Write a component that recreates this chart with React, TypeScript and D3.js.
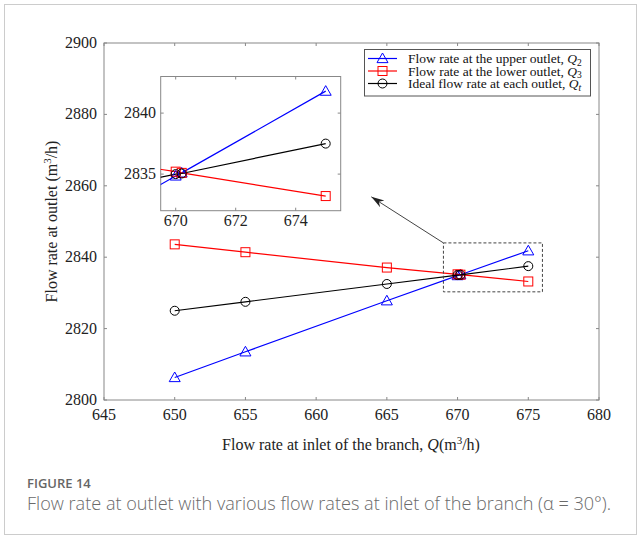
import React from "react";
import * as d3 from "d3";

const X = [650, 655, 665, 670, 670.2, 675];
const Q2 = [2806.3, 2813.5, 2827.8, 2834.85, 2835.1, 2841.8];
const Q3 = [2843.6, 2841.4, 2837.1, 2835.2, 2835.1, 2833.2];
const QT = [2825.0, 2827.5, 2832.5, 2835.0, 2835.05, 2837.5];

const X_TICKS = [645, 650, 655, 660, 665, 670, 675, 680];
const Y_TICKS = [2800, 2820, 2840, 2860, 2880, 2900];
const INSET_X_TICKS = [670, 672, 674];
const INSET_Y_TICKS = [2835, 2840];

const ZOOM_BOX = { x0: 669, x1: 676, y0: 2830.3, y1: 2844 };
const ARROW_TIP = { x: 663.9, y: 2856.9 };

const BLUE = "#0000ff";
const RED = "#ff0000";
const BLACK = "#000000";
const SERIF = "'Liberation Serif', 'Times New Roman', serif";
const SANS = "'Open Sans', 'Noto Sans', sans-serif";

type Series = { vals: number[]; color: string; marker: "tri" | "sq" | "circ" };
const SERIES: Series[] = [
  { vals: Q2, color: BLUE, marker: "tri" },
  { vals: Q3, color: RED, marker: "sq" },
  { vals: QT, color: BLACK, marker: "circ" },
];

function Marker({ type, cx, cy, color }: { type: string; cx: number; cy: number; color: string }) {
  if (type === "tri") {
    const s = 5.5;
    return (
      <path
        d={`M${cx},${cy - s} L${cx + s},${cy + s * 0.75} L${cx - s},${cy + s * 0.75} Z`}
        fill="none"
        stroke={color}
        strokeWidth={1}
      />
    );
  }
  if (type === "sq") {
    const s = 4.5;
    return <rect x={cx - s} y={cy - s} width={2 * s} height={2 * s} fill="none" stroke={color} strokeWidth={1} />;
  }
  return <circle cx={cx} cy={cy} r={4.5} fill="none" stroke={color} strokeWidth={1} />;
}

export default function App() {
  const x = d3.scaleLinear().domain([645, 680]).range([104, 599]);
  const y = d3.scaleLinear().domain([2800, 2900]).range([400, 43]);
  const ix = d3.scaleLinear().domain([669.5, 675.5]).range([160.7, 340.7]);
  const iy = d3.scaleLinear().domain([2832, 2843]).range([210.7, 76.5]);

  const mainLine = (vals: number[]) =>
    d3.line<number>().x((_, i) => x(X[i])).y((d) => y(d))(vals) || "";
  const insetLine = (vals: number[]) =>
    d3.line<number>().x((_, i) => ix(X[i])).y((d) => iy(d))(vals) || "";

  const [px0, px1] = x.range();
  const [py0, py1] = y.range();
  const [ipx0, ipx1] = ix.range();
  const [ipy0, ipy1] = iy.range();

  const legendX = 364.5;
  const legendY = 49.5;
  const legendRows = [58.5, 71, 83.5];
  const legendLabels = [
    { text: "Flow rate at the upper outlet, ", sub: "2", subItalic: false },
    { text: "Flow rate at the lower outlet, ", sub: "3", subItalic: false },
    { text: "Ideal flow rate at each outlet, ", sub: "t", subItalic: true },
  ];

  return (
    <svg
      width={641}
      height={539}
      style={{ position: "absolute", left: 0, top: 0, background: "#fff" }}
      fontFamily={SERIF}
    >
      <defs>
        <clipPath id="insetClip">
          <rect x={ipx0} y={ipy1} width={ipx1 - ipx0} height={ipy0 - ipy1} />
        </clipPath>
        <marker
          id="arrowHead"
          viewBox="0 -5 14 10"
          refX={13}
          refY={0}
          markerWidth={14}
          markerHeight={10}
          markerUnits="userSpaceOnUse"
          orient="auto"
        >
          <path d="M13,0 L0,-4 L4,0 L0,4 Z" fill="#222" />
        </marker>
      </defs>

      {/* outer frame */}
      <rect x={4.5} y={4.5} width={632} height={530} fill="none" stroke="#cccccc" strokeWidth={1} />

      {/* main axes box */}
      <rect x={px0} y={py1} width={px1 - px0} height={py0 - py1} fill="none" stroke="#888" strokeWidth={1} />

      {/* ticks */}
      {X_TICKS.map((t) => (
        <g key={"xt" + t}>
          <line x1={x(t)} x2={x(t)} y1={py0} y2={py0 - 3} stroke="#888" />
          <line x1={x(t)} x2={x(t)} y1={py1} y2={py1 + 3} stroke="#888" />
          <text x={x(t)} y={420} fontFamily={SERIF} fontSize={16} textAnchor="middle" fill="#222">
            {String(t)}
          </text>
        </g>
      ))}
      {Y_TICKS.map((t) => (
        <g key={"yt" + t}>
          <line x1={px0} x2={px0 + 3} y1={y(t)} y2={y(t)} stroke="#888" />
          <line x1={px1} x2={px1 - 3} y1={y(t)} y2={y(t)} stroke="#888" />
          <text x={97} y={y(t) + 5} fontFamily={SERIF} fontSize={16} textAnchor="end" fill="#222">
            {String(t)}
          </text>
        </g>
      ))}

      {/* axis titles */}
      <text x={351} y={450} fontFamily={SERIF} fontSize={16} textAnchor="middle" fill="#222">
        Flow rate at inlet of the branch, <tspan fontStyle="italic">Q</tspan>(m
        <tspan dy={-6} fontSize={11}>3</tspan>
        <tspan dy={6}>/h)</tspan>
      </text>
      <text
        transform={`translate(57, ${(py0 + py1) / 2}) rotate(-90)`}
        fontFamily={SERIF}
        fontSize={16}
        textAnchor="middle"
        fill="#222"
      >
        Flow rate at outlet (m<tspan dy={-6} fontSize={11}>3</tspan>
        <tspan dy={6}>/h)</tspan>
      </text>

      {/* main series */}
      {SERIES.map((s, si) => (
        <g key={"ms" + si}>
          <path d={mainLine(s.vals)} fill="none" stroke={s.color} strokeWidth={1.2} />
          {s.vals.map((v, i) => (
            <Marker key={i} type={s.marker} cx={x(X[i])} cy={y(v)} color={s.color} />
          ))}
        </g>
      ))}

      {/* zoom box */}
      <rect
        x={x(ZOOM_BOX.x0)}
        y={y(ZOOM_BOX.y1)}
        width={x(ZOOM_BOX.x1) - x(ZOOM_BOX.x0)}
        height={y(ZOOM_BOX.y0) - y(ZOOM_BOX.y1)}
        fill="none"
        stroke="#444"
        strokeWidth={1}
        strokeDasharray="3,2"
      />
      <line
        x1={x(ZOOM_BOX.x0)}
        y1={y(ZOOM_BOX.y1)}
        x2={x(ARROW_TIP.x)}
        y2={y(ARROW_TIP.y)}
        stroke="#444"
        strokeWidth={1}
        markerEnd="url(#arrowHead)"
      />

      {/* inset */}
      <rect x={ipx0} y={ipy1} width={ipx1 - ipx0} height={ipy0 - ipy1} fill="#fff" stroke="#888" strokeWidth={1} />
      {INSET_X_TICKS.map((t) => (
        <g key={"ixt" + t}>
          <line x1={ix(t)} x2={ix(t)} y1={ipy0} y2={ipy0 - 3} stroke="#888" />
          <line x1={ix(t)} x2={ix(t)} y1={ipy1} y2={ipy1 + 3} stroke="#888" />
          <text x={ix(t)} y={226} fontFamily={SERIF} fontSize={16} textAnchor="middle" fill="#222">
            {String(t)}
          </text>
        </g>
      ))}
      {INSET_Y_TICKS.map((t) => (
        <g key={"iyt" + t}>
          <line x1={ipx0} x2={ipx0 + 3} y1={iy(t)} y2={iy(t)} stroke="#888" />
          <line x1={ipx1} x2={ipx1 - 3} y1={iy(t)} y2={iy(t)} stroke="#888" />
          <text x={156} y={iy(t) + 5} fontFamily={SERIF} fontSize={16} textAnchor="end" fill="#222">
            {String(t)}
          </text>
        </g>
      ))}
      <g clipPath="url(#insetClip)">
        {SERIES.map((s, si) => (
          <path key={"il" + si} d={insetLine(s.vals)} fill="none" stroke={s.color} strokeWidth={1.2} />
        ))}
      </g>
      {SERIES.map((s, si) => (
        <g key={"im" + si}>
          {s.vals.map((v, i) =>
            X[i] >= 669.5 ? (
              <Marker key={i} type={s.marker} cx={ix(X[i])} cy={iy(v)} color={s.color} />
            ) : null
          )}
        </g>
      ))}

      {/* legend */}
      <rect x={legendX} y={legendY} width={226} height={46.5} fill="#fff" stroke="#555" strokeWidth={1} />
      {SERIES.map((s, i) => (
        <g key={"lg" + i}>
          <line x1={368} x2={397} y1={legendRows[i]} y2={legendRows[i]} stroke={s.color} strokeWidth={1.2} />
          <Marker type={s.marker} cx={382.5} cy={legendRows[i]} color={s.color} />
          <text x={408} y={legendRows[i] + 4.5} fontFamily={SERIF} fontSize={13.5} fill="#111">
            {legendLabels[i].text}
            <tspan fontStyle="italic">Q</tspan>
            <tspan dy={2.5} fontSize={9.5} fontStyle={legendLabels[i].subItalic ? "italic" : "normal"}>
              {legendLabels[i].sub}
            </tspan>
          </text>
        </g>
      ))}

      {/* caption */}
      <text x={27} y={488} fontFamily={SANS} fontSize={13} fontWeight={600} fill="#666">
        FIGURE 14
      </text>
      <text x={27} y={510} fontFamily={SANS} fontSize={18.1} fontWeight={300} fill="#6a6a6a">
        Flow rate at outlet with various flow rates at inlet of the branch (α = 30°).
      </text>
    </svg>
  );
}
